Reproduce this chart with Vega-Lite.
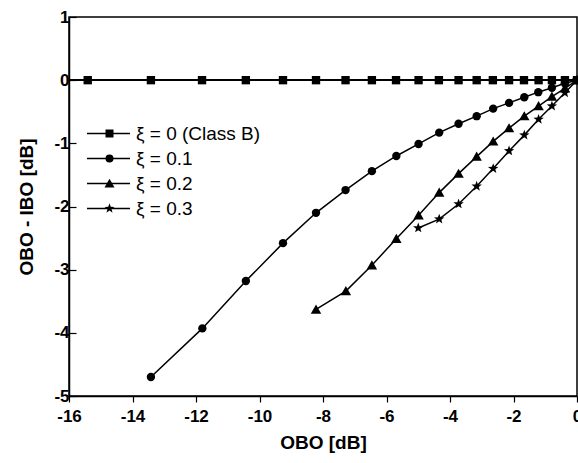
{
  "$schema": "https://vega.github.io/schema/vega-lite/v6.json",
  "width": 508,
  "height": 379,
  "autosize": {"type": "none"},
  "padding": {"left": 69, "top": 17, "right": 1, "bottom": 67},
  "background": "white",
  "config": {
    "view": {"stroke": "black", "strokeWidth": 1.5},
    "axis": {
      "domainColor": "black", "domainWidth": 1.5, "tickColor": "black", "tickWidth": 1.2,
      "labelFont": "Liberation Sans", "labelFontWeight": "bold", "labelFontSize": 17, "labelColor": "black",
      "titleFont": "Liberation Sans", "titleFontWeight": "bold", "titleFontSize": 19, "titleColor": "black",
      "grid": false
    },
    "legend": {"labelFont": "Liberation Sans", "labelFontSize": 19, "labelColor": "black"}
  },
  "data": {"values": [
    {"series": "ξ = 0 (Class B)", "obo": -15.41, "diff": 0},
    {"series": "ξ = 0 (Class B)", "obo": -13.42, "diff": 0},
    {"series": "ξ = 0 (Class B)", "obo": -11.81, "diff": 0},
    {"series": "ξ = 0 (Class B)", "obo": -10.43, "diff": 0},
    {"series": "ξ = 0 (Class B)", "obo": -9.26, "diff": 0},
    {"series": "ξ = 0 (Class B)", "obo": -8.22, "diff": 0},
    {"series": "ξ = 0 (Class B)", "obo": -7.29, "diff": 0},
    {"series": "ξ = 0 (Class B)", "obo": -6.46, "diff": 0},
    {"series": "ξ = 0 (Class B)", "obo": -5.70, "diff": 0},
    {"series": "ξ = 0 (Class B)", "obo": -4.99, "diff": 0},
    {"series": "ξ = 0 (Class B)", "obo": -4.35, "diff": 0},
    {"series": "ξ = 0 (Class B)", "obo": -3.73, "diff": 0},
    {"series": "ξ = 0 (Class B)", "obo": -3.16, "diff": 0},
    {"series": "ξ = 0 (Class B)", "obo": -2.65, "diff": 0},
    {"series": "ξ = 0 (Class B)", "obo": -2.14, "diff": 0},
    {"series": "ξ = 0 (Class B)", "obo": -1.67, "diff": 0},
    {"series": "ξ = 0 (Class B)", "obo": -1.21, "diff": 0},
    {"series": "ξ = 0 (Class B)", "obo": -0.79, "diff": 0},
    {"series": "ξ = 0 (Class B)", "obo": -0.38, "diff": 0},
    {"series": "ξ = 0 (Class B)", "obo": 0, "diff": 0},
    {"series": "ξ = 0.1", "obo": -13.42, "diff": -4.70},
    {"series": "ξ = 0.1", "obo": -11.80, "diff": -3.93},
    {"series": "ξ = 0.1", "obo": -10.43, "diff": -3.18},
    {"series": "ξ = 0.1", "obo": -9.26, "diff": -2.58},
    {"series": "ξ = 0.1", "obo": -8.22, "diff": -2.10},
    {"series": "ξ = 0.1", "obo": -7.29, "diff": -1.74},
    {"series": "ξ = 0.1", "obo": -6.46, "diff": -1.44},
    {"series": "ξ = 0.1", "obo": -5.69, "diff": -1.20},
    {"series": "ξ = 0.1", "obo": -4.99, "diff": -1.01},
    {"series": "ξ = 0.1", "obo": -4.34, "diff": -0.83},
    {"series": "ξ = 0.1", "obo": -3.73, "diff": -0.69},
    {"series": "ξ = 0.1", "obo": -3.16, "diff": -0.57},
    {"series": "ξ = 0.1", "obo": -2.64, "diff": -0.45},
    {"series": "ξ = 0.1", "obo": -2.14, "diff": -0.36},
    {"series": "ξ = 0.1", "obo": -1.66, "diff": -0.27},
    {"series": "ξ = 0.1", "obo": -1.22, "diff": -0.19},
    {"series": "ξ = 0.1", "obo": -0.79, "diff": -0.12},
    {"series": "ξ = 0.1", "obo": -0.38, "diff": -0.05},
    {"series": "ξ = 0.1", "obo": 0, "diff": 0},
    {"series": "ξ = 0.2", "obo": -8.22, "diff": -3.63},
    {"series": "ξ = 0.2", "obo": -7.28, "diff": -3.34},
    {"series": "ξ = 0.2", "obo": -6.46, "diff": -2.93},
    {"series": "ξ = 0.2", "obo": -5.69, "diff": -2.51},
    {"series": "ξ = 0.2", "obo": -4.99, "diff": -2.14},
    {"series": "ξ = 0.2", "obo": -4.34, "diff": -1.78},
    {"series": "ξ = 0.2", "obo": -3.73, "diff": -1.48},
    {"series": "ξ = 0.2", "obo": -3.16, "diff": -1.21},
    {"series": "ξ = 0.2", "obo": -2.64, "diff": -0.97},
    {"series": "ξ = 0.2", "obo": -2.14, "diff": -0.76},
    {"series": "ξ = 0.2", "obo": -1.66, "diff": -0.57},
    {"series": "ξ = 0.2", "obo": -1.21, "diff": -0.41},
    {"series": "ξ = 0.2", "obo": -0.79, "diff": -0.26},
    {"series": "ξ = 0.2", "obo": -0.38, "diff": -0.13},
    {"series": "ξ = 0.2", "obo": 0, "diff": 0},
    {"series": "ξ = 0.3", "obo": -5.00, "diff": -2.34},
    {"series": "ξ = 0.3", "obo": -4.34, "diff": -2.20},
    {"series": "ξ = 0.3", "obo": -3.73, "diff": -1.96},
    {"series": "ξ = 0.3", "obo": -3.16, "diff": -1.68},
    {"series": "ξ = 0.3", "obo": -2.64, "diff": -1.40},
    {"series": "ξ = 0.3", "obo": -2.14, "diff": -1.12},
    {"series": "ξ = 0.3", "obo": -1.66, "diff": -0.87},
    {"series": "ξ = 0.3", "obo": -1.21, "diff": -0.62},
    {"series": "ξ = 0.3", "obo": -0.79, "diff": -0.41},
    {"series": "ξ = 0.3", "obo": -0.38, "diff": -0.20},
    {"series": "ξ = 0.3", "obo": 0, "diff": 0}
  ]},
  "layer": [
    {
      "mark": {"type": "line", "strokeWidth": 1.5},
      "encoding": {
        "x": {
          "field": "obo", "type": "quantitative",
          "scale": {"domain": [-16, 0], "nice": false, "zero": false},
          "axis": {
            "title": "OBO [dB]",
            "values": [-16,-15,-14,-13,-12,-11,-10,-9,-8,-7,-6,-5,-4,-3,-2,-1,0],
            "labelExpr": "datum.value % 2 === 0 ? (datum.value < 0 ? '-' + abs(datum.value) : '' + datum.value) : ''",
            "tickSize": {"condition": {"test": "datum.value % 2 !== 0", "value": 3.5}, "value": 6},
            "labelFontWeight": "bold",
            "labelPadding": 6,
            "labelFlush": false,
            "labelOverlap": false,
            "titlePadding": 9
          }
        },
        "y": {
          "field": "diff", "type": "quantitative",
          "scale": {"domain": [-5, 1], "nice": false, "zero": false},
          "axis": {
            "title": "OBO - IBO [dB]",
            "values": [-5,-4.5,-4,-3.5,-3,-2.5,-2,-1.5,-1,-0.5,0,0.5,1],
            "labelExpr": "datum.value % 1 === 0 ? (datum.value < 0 ? '-' + abs(datum.value) : '' + datum.value) : ''",
            "tickSize": {"condition": {"test": "datum.value % 1 !== 0", "value": -4}, "value": -7},
            "labelFontWeight": "bold",
            "labelPadding": 7,
            "labelFlush": false,
            "labelOverlap": false,
            "titlePadding": 17
          }
        },
        "color": {
          "field": "series", "type": "nominal",
          "scale": {"range": ["black", "black", "black", "black"]},
          "legend": {
            "title": null,
            "orient": "none",
            "legendX": 17,
            "legendY": 106,
            "padding": 0,
            "symbolType": "stroke",
            "symbolSize": 1849,
            "symbolStrokeWidth": 1.5,
            "clipHeight": 21,
            "rowPadding": 4,
            "labelExpr": "''",
            "labelOffset": 15
          }
        },
        "order": {"field": "obo", "type": "quantitative"}
      }
    },
    {
      "mark": {"type": "rule", "color": "black", "strokeWidth": 1.5},
      "encoding": {"y": {"datum": 0}}
    },
    {
      "mark": {"type": "point", "filled": true, "color": "black", "opacity": 1, "size": 70},
      "encoding": {
        "x": {"field": "obo", "type": "quantitative"},
        "y": {"field": "diff", "type": "quantitative"},
        "shape": {
          "field": "series", "type": "nominal",
          "scale": {
            "domain": ["ξ = 0 (Class B)", "ξ = 0.1", "ξ = 0.2", "ξ = 0.3"],
            "range": ["square", "circle", "M0,-1.2L1.25,1L-1.25,1Z", "M0,-1.3L0.31,-0.43L1.24,-0.4L0.51,0.16L0.76,1.05L0,0.53L-0.76,1.05L-0.51,0.16L-1.24,-0.4L-0.31,-0.43Z"]
          },
          "legend": {
            "title": null,
            "orient": "none",
            "legendX": 31,
            "legendY": 106,
            "padding": 0,
            "symbolSize": 64,
            "symbolFillColor": "black",
            "symbolStrokeColor": "black",
            "symbolOpacity": 1,
            "clipHeight": 21,
            "labelOffset": 17,
            "rowPadding": 4
          }
        }
      }
    }
  ]
}
